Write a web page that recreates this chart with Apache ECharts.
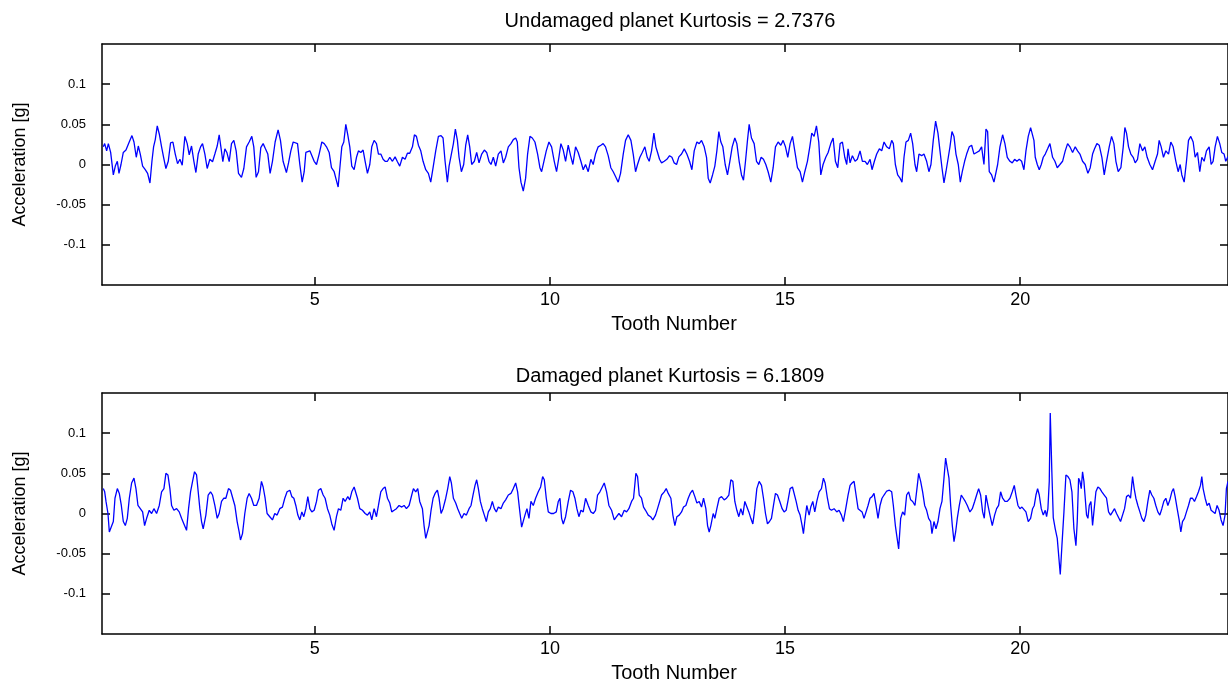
<!DOCTYPE html>
<html>
<head>
<meta charset="utf-8">
<script src="https://cdn.jsdelivr.net/npm/echarts@6/dist/echarts.min.js"></script>
<style>html,body{margin:0;padding:0;background:#fff}#c{width:1228px;height:684px}</style>
</head>
<body>
<div id="c"></div>
<script>
const titles = ['Undamaged planet Kurtosis = 2.7376', 'Damaged planet Kurtosis = 6.1809'];
const xName = 'Tooth Number';
const yName = 'Acceleration [g]';
const xTicks = [5, 10, 15, 20];
const yTicks = [-0.1, -0.05, 0, 0.05, 0.1];
const xRange = [0.474, 24.42];
const yRange = [-0.15, 0.15];

// [tooth number, acceleration g]
const undamaged = [
[0.502,0.022],[0.531,0.026],[0.573,0.017],[0.609,0.026],[0.658,0.015],[0.715,-0.013],[0.757,-0.002],[0.800,0.004],[0.835,-0.011],[0.878,0.000],[0.927,0.015],[0.984,0.018],[1.040,0.026],[1.111,0.036],[1.154,0.028],[1.203,0.009],[1.246,0.023],[1.288,0.013],[1.338,-0.002],[1.394,-0.0065],[1.444,-0.011],[1.494,-0.023],[1.536,0.004],[1.571,0.022],[1.607,0.031],[1.649,0.048],[1.692,0.038],[1.741,0.022],[1.784,0.009],[1.833,-0.005],[1.883,0.004],[1.932,0.027],[1.982,0.028],[2.032,0.013],[2.081,0.001],[2.131,0.0065],[2.180,-0.001],[2.237,0.035],[2.286,0.026],[2.329,0.012],[2.378,0.023],[2.428,0.004],[2.471,-0.010],[2.520,0.013],[2.570,0.022],[2.612,0.026],[2.662,0.013],[2.711,-0.005],[2.768,0.0065],[2.825,0.0035],[2.874,0.013],[2.924,0.023],[2.966,0.037],[3.002,0.022],[3.044,0.0035],[3.087,0.0195],[3.129,0.015],[3.179,0.0035],[3.228,0.026],[3.278,0.030],[3.327,0.017],[3.377,-0.011],[3.440,-0.016],[3.490,-0.005],[3.547,0.022],[3.603,0.028],[3.660,0.035],[3.702,0.022],[3.752,-0.016],[3.802,-0.009],[3.851,0.021],[3.901,0.026],[3.950,0.0195],[4.000,0.013],[4.049,-0.011],[4.099,0.004],[4.156,0.028],[4.219,0.043],[4.269,0.030],[4.325,0.004],[4.396,-0.010],
[4.441,0.002],[4.490,0.017],[4.540,0.028],[4.582,0.030],[4.632,0.026],[4.681,0.000],[4.731,-0.022],[4.774,-0.009],[4.809,0.015],[4.851,0.014],[4.894,0.017],[4.936,0.015],[4.986,0.004],[5.036,0.000],[5.092,0.013],[5.149,0.028],[5.199,0.026],[5.248,0.022],[5.305,0.015],[5.354,-0.004],[5.411,-0.009],[5.446,-0.017],[5.496,-0.028],[5.539,0.000],[5.574,0.022],[5.616,0.028],[5.659,0.050],[5.701,0.037],[5.744,0.022],[5.786,-0.002],[5.836,-0.0065],[5.886,0.009],[5.928,0.017],[5.978,0.015],[6.027,0.018],[6.070,0.004],[6.119,-0.011],[6.169,0.000],[6.211,0.022],[6.261,0.030],[6.311,0.026],[6.353,0.013],[6.403,0.013],[6.452,0.0065],[6.495,0.004],[6.544,0.004],[6.594,0.009],[6.651,0.004],[6.707,0.0095],[6.757,0.0035],[6.806,-0.002],[6.863,0.009],[6.920,0.0065],[6.969,0.014],[7.019,0.014],[7.076,0.022],[7.118,0.037],[7.161,0.035],[7.203,0.024],[7.253,0.017],[7.302,0.004],[7.359,-0.0065],[7.415,-0.011],[7.465,-0.022],[7.515,-0.004],[7.571,0.017],[7.628,0.035],[7.685,0.036],[7.727,0.033],[7.770,0.004],[7.819,-0.022],[7.855,-0.002],[7.904,0.013],[7.947,0.026],[7.989,0.044],[8.032,0.030],[8.067,0.009],[8.117,-0.009],[8.166,0.000],[8.209,0.024],[8.251,0.037],[8.294,0.022],
[8.336,0.000],[8.393,0.004],[8.442,0.015],[8.492,0.002],[8.549,0.013],[8.605,0.018],[8.655,0.015],[8.704,0.004],[8.747,0.000],[8.796,0.009],[8.846,-0.002],[8.902,0.013],[8.959,0.017],[9.009,0.002],[9.058,0.009],[9.115,0.022],[9.171,0.026],[9.221,0.031],[9.271,0.033],[9.306,0.028],[9.342,-0.004],[9.384,-0.022],[9.433,-0.033],[9.483,-0.017],[9.525,0.013],[9.575,0.035],[9.625,0.033],[9.681,0.028],[9.738,0.013],[9.787,-0.004],[9.823,-0.009],[9.872,0.004],[9.922,0.017],[9.979,0.028],[10.035,0.022],[10.092,0.004],[10.141,-0.009],[10.191,0.009],[10.233,0.026],[10.283,0.018],[10.333,0.004],[10.389,0.024],[10.439,0.011],[10.488,0.000],[10.545,0.022],[10.601,0.015],[10.658,0.004],[10.708,-0.0065],[10.757,0.000],[10.814,-0.009],[10.870,0.0065],[10.920,0.000],[10.969,0.013],[11.026,0.022],[11.083,0.024],[11.132,0.026],[11.182,0.022],[11.239,0.011],[11.295,-0.004],[11.346,-0.009],[11.395,-0.015],[11.452,-0.022],[11.502,-0.011],[11.559,0.013],[11.608,0.030],[11.665,0.037],[11.722,0.030],[11.771,0.013],[11.821,-0.009],[11.863,0.000],[11.913,0.009],[11.963,0.015],[12.019,0.022],[12.069,0.009],[12.111,0.004],[12.161,0.017],[12.211,0.039],[12.253,0.022],
[12.289,0.015],[12.331,0.0065],[12.374,0.002],[12.431,0.004],[12.487,0.0065],[12.544,0.011],[12.594,0.009],[12.643,0.002],[12.693,0.000],[12.742,0.0095],[12.799,0.013],[12.856,0.0195],[12.912,0.013],[12.969,0.004],[13.019,-0.0065],[13.068,0.017],[13.125,0.028],[13.174,0.026],[13.224,0.030],[13.281,0.022],[13.330,0.009],[13.366,-0.017],[13.408,-0.023],[13.458,-0.013],[13.507,-0.002],[13.550,0.017],[13.592,0.041],[13.635,0.028],[13.677,0.022],[13.727,0.000],[13.776,-0.013],[13.826,0.004],[13.876,0.022],[13.932,0.033],[13.975,0.026],[14.024,0.004],[14.074,-0.013],[14.116,-0.0195],[14.159,0.004],[14.201,0.030],[14.237,0.050],[14.286,0.033],[14.343,0.026],[14.393,0.004],[14.442,0.000],[14.492,0.009],[14.541,0.0065],[14.591,0.000],[14.640,-0.009],[14.697,-0.022],[14.747,-0.004],[14.796,0.022],[14.853,0.028],[14.910,0.024],[14.959,0.030],[15.009,0.022],[15.058,0.009],[15.108,0.026],[15.158,0.035],[15.207,0.017],[15.264,-0.004],[15.320,-0.009],[15.370,-0.022],[15.420,-0.009],[15.476,0.004],[15.526,0.022],[15.568,0.039],[15.618,0.035],[15.668,0.048],[15.717,0.028],[15.760,-0.013],[15.809,0.000],[15.866,0.009],[15.916,0.015],[15.972,0.026],[16.022,0.033],[16.071,0.004],[16.121,-0.004],[16.171,0.026],[16.220,0.028],[16.270,0.009],[16.312,0.000],
[16.340,0.0195],[16.383,0.002],[16.432,0.011],[16.489,0.004],[16.538,0.0065],[16.595,0.017],[16.645,0.004],[16.701,0.004],[16.751,0.000],[16.808,0.0065],[16.850,-0.0065],[16.900,0.004],[16.949,0.013],[17.006,0.0195],[17.056,0.017],[17.105,0.028],[17.162,0.022],[17.218,0.0195],[17.268,0.030],[17.303,0.026],[17.346,0.000],[17.395,-0.013],[17.445,-0.017],[17.487,-0.022],[17.530,0.009],[17.572,0.028],[17.622,0.030],[17.671,0.039],[17.714,0.026],[17.763,0.000],[17.799,-0.009],[17.848,0.013],[17.905,0.011],[17.954,0.013],[18.011,0.004],[18.060,-0.009],[18.103,0.000],[18.152,0.030],[18.202,0.054],[18.252,0.039],[18.295,0.017],[18.337,-0.004],[18.380,-0.023],[18.422,-0.009],[18.472,0.009],[18.507,0.022],[18.550,0.041],[18.592,0.035],[18.635,0.013],[18.684,0.000],[18.727,-0.022],[18.769,-0.009],[18.819,0.004],[18.862,0.013],[18.918,0.022],[18.968,0.024],[19.018,0.013],[19.074,0.015],[19.131,0.017],[19.180,0.022],[19.230,0.000],[19.273,0.044],[19.308,0.041],[19.343,-0.009],[19.393,-0.013],[19.443,-0.022],[19.485,-0.024],[19.521,0.000],[19.570,0.022],[19.627,0.037],[19.676,0.026],[19.726,0.009],[19.783,0.004],[19.832,0.002],[19.882,0.0065],[19.931,0.004],[19.981,0.0065],[20.031,0.004],[20.080,-0.0065],[20.123,0.017],[20.172,0.035],[20.222,0.046],[20.264,0.044],
[20.293,0.030],[20.321,0.009],[20.364,0.000],[20.406,-0.0065],[20.449,0.000],[20.491,0.009],[20.534,0.013],[20.584,0.0195],[20.633,0.026],[20.690,0.009],[20.739,0.004],[20.789,-0.004],[20.846,0.000],[20.902,0.004],[20.959,0.017],[21.009,0.026],[21.058,0.022],[21.115,0.015],[21.171,0.022],[21.221,0.017],[21.271,0.013],[21.327,0.004],[21.384,0.000],[21.441,-0.011],[21.490,-0.004],[21.540,0.013],[21.582,0.0195],[21.632,0.026],[21.681,0.024],[21.738,0.009],[21.788,-0.013],[21.837,0.004],[21.894,0.022],[21.944,0.035],[21.993,0.026],[22.036,0.004],[22.085,-0.009],[22.142,-0.004],[22.192,0.022],[22.227,0.046],[22.262,0.039],[22.305,0.022],[22.354,0.013],[22.404,0.009],[22.446,0.002],[22.496,0.0065],[22.546,0.026],[22.602,0.017],[22.652,0.022],[22.701,0.009],[22.758,0.000],[22.815,-0.0065],[22.871,0.004],[22.921,0.013],[22.956,0.030],[22.999,0.022],[23.048,0.009],[23.098,0.017],[23.155,0.013],[23.204,0.028],[23.254,0.022],[23.311,0.004],[23.360,-0.009],[23.403,0.000],[23.438,-0.013],[23.488,-0.022],[23.537,0.004],[23.580,0.030],[23.629,0.035],[23.679,0.028],[23.721,0.009],[23.771,0.015],[23.820,-0.009],[23.863,0.009],[23.912,0.004],[23.962,0.017],[24.019,0.022],[24.061,0.000],[24.103,0.004],[24.146,0.022],[24.195,0.035],[24.245,0.026],[24.287,0.015],[24.337,0.013],[24.372,0.004],[24.42,0.010]
];

const damaged = [
[0.502,0.031],[0.531,0.027],[0.559,0.015],[0.601,0.000],[0.630,-0.023],[0.672,-0.021],[0.715,-0.010],[0.750,0.019],[0.800,0.031],[0.842,0.025],[0.885,0.010],[0.927,-0.010],[0.970,-0.015],[1.012,-0.006],[1.055,0.019],[1.104,0.038],[1.154,0.044],[1.196,0.031],[1.239,0.010],[1.281,0.008],[1.338,0.002],[1.380,-0.015],[1.423,-0.006],[1.479,0.004],[1.529,0.000],[1.578,0.006],[1.635,0.000],[1.692,0.010],[1.741,0.027],[1.791,0.031],[1.833,0.050],[1.876,0.048],[1.918,0.031],[1.954,0.010],[2.003,0.004],[2.060,0.006],[2.116,0.002],[2.166,-0.006],[2.216,-0.013],[2.272,-0.021],[2.315,0.006],[2.357,0.027],[2.400,0.040],[2.442,0.052],[2.485,0.048],[2.520,0.027],[2.555,0.006],[2.591,-0.010],[2.626,-0.019],[2.683,-0.002],[2.732,0.023],[2.782,0.027],[2.825,0.023],[2.874,0.010],[2.924,-0.006],[2.966,0.000],[3.016,0.015],[3.065,0.019],[3.108,0.019],[3.164,0.031],[3.207,0.029],[3.249,0.031],[3.299,0.010],[3.348,-0.010],[3.391,-0.023],[3.419,-0.033],[3.462,-0.025],[3.511,0.000],[3.561,0.019],[3.603,0.025],[3.653,0.019],[3.702,0.010],[3.759,0.010],[3.816,0.019],[3.865,0.040],[3.901,0.033],[3.943,0.019],[3.985,0.000],[4.042,-0.004],[4.099,-0.008],[4.148,0.000],[4.198,-0.002],[4.254,0.006],[4.311,0.008],[4.361,0.019],[4.410,0.027],
[4.469,0.029],[4.511,0.021],[4.554,0.019],[4.596,0.010],[4.639,-0.002],[4.681,-0.008],[4.724,0.002],[4.766,-0.004],[4.809,0.006],[4.851,0.021],[4.894,0.006],[4.936,0.002],[4.986,0.004],[5.036,0.015],[5.078,0.029],[5.127,0.031],[5.177,0.023],[5.219,0.019],[5.269,0.006],[5.318,-0.002],[5.361,-0.013],[5.410,-0.021],[5.460,-0.004],[5.503,0.006],[5.552,0.004],[5.602,0.019],[5.644,0.015],[5.701,0.021],[5.743,0.017],[5.786,0.027],[5.836,0.033],[5.871,0.031],[5.907,0.019],[5.956,0.006],[6.013,0.004],[6.070,0.000],[6.119,-0.002],[6.169,0.002],[6.211,-0.008],[6.261,0.006],[6.311,-0.004],[6.353,0.010],[6.403,0.027],[6.452,0.031],[6.495,0.033],[6.544,0.019],[6.594,0.013],[6.636,0.002],[6.686,0.004],[6.735,0.006],[6.792,0.010],[6.849,0.008],[6.898,0.010],[6.948,0.006],[7.005,0.010],[7.061,0.023],[7.097,0.031],[7.146,0.027],[7.189,0.031],[7.231,0.015],[7.288,0.006],[7.323,-0.015],[7.359,-0.031],[7.394,-0.029],[7.430,-0.015],[7.472,0.004],[7.515,0.019],[7.557,0.025],[7.607,0.029],[7.642,0.019],[7.685,0.000],[7.727,0.006],[7.784,0.019],[7.826,0.031],[7.869,0.046],[7.904,0.038],[7.947,0.019],[7.996,0.013],[8.039,0.006],[8.081,0.000],[8.124,-0.006],[8.173,0.000],[8.223,-0.002],[8.280,0.006],[8.322,0.010],[8.364,0.023],[8.407,0.035],
[8.442,0.042],[8.478,0.031],[8.520,0.015],[8.562,0.006],[8.605,-0.002],[8.647,-0.010],[8.690,0.002],[8.732,0.006],[8.775,0.015],[8.818,0.006],[8.860,0.002],[8.902,0.008],[8.959,0.006],[9.009,0.013],[9.058,0.017],[9.115,0.023],[9.171,0.025],[9.221,0.031],[9.271,0.038],[9.313,0.027],[9.356,0.004],[9.398,-0.017],[9.433,-0.019],[9.469,-0.002],[9.511,0.006],[9.554,-0.006],[9.596,0.015],[9.646,0.010],[9.695,0.019],[9.752,0.027],[9.802,0.033],[9.845,0.046],[9.880,0.042],[9.922,0.019],[9.965,0.002],[10.022,0.000],[10.078,0.000],[10.135,0.002],[10.178,0.015],[10.213,0.019],[10.248,-0.006],[10.284,-0.013],[10.333,-0.004],[10.390,0.015],[10.439,0.029],[10.488,0.027],[10.531,0.019],[10.573,0.006],[10.616,-0.004],[10.659,0.004],[10.708,0.002],[10.758,0.019],[10.815,0.010],[10.871,0.002],[10.921,0.000],[10.970,0.004],[11.013,0.023],[11.063,0.027],[11.113,0.033],[11.155,0.038],[11.205,0.027],[11.254,0.010],[11.311,0.004],[11.368,-0.008],[11.417,-0.004],[11.467,0.000],[11.523,-0.004],[11.580,0.004],[11.630,0.002],[11.679,0.006],[11.736,0.015],[11.778,0.019],[11.828,0.050],[11.863,0.046],[11.899,0.023],[11.948,0.019],[11.991,0.008],[12.033,0.004],[12.090,-0.002],[12.140,-0.004],[12.189,-0.008],[12.246,-0.002],[12.288,0.006],
[12.374,0.023],[12.431,0.027],[12.473,0.031],[12.516,0.025],[12.572,0.019],[12.615,-0.002],[12.657,-0.015],[12.700,-0.004],[12.749,-0.002],[12.799,0.002],[12.841,0.008],[12.891,0.010],[12.941,0.019],[12.983,0.025],[13.033,0.029],[13.082,0.021],[13.125,0.013],[13.174,0.015],[13.224,0.008],[13.267,0.019],[13.316,0.006],[13.352,-0.015],[13.387,-0.023],[13.422,-0.015],[13.472,0.000],[13.507,-0.006],[13.550,0.006],[13.599,0.019],[13.649,0.021],[13.706,0.017],[13.755,0.019],[13.805,0.023],[13.847,0.042],[13.890,0.040],[13.932,0.015],[13.975,0.004],[14.017,-0.004],[14.060,0.006],[14.102,-0.002],[14.145,0.015],[14.187,0.017],[14.230,0.002],[14.272,-0.006],[14.315,-0.013],[14.357,0.006],[14.400,0.031],[14.449,0.040],[14.499,0.035],[14.541,0.019],[14.584,0.000],[14.626,-0.013],[14.669,-0.010],[14.711,-0.006],[14.754,0.010],[14.796,0.025],[14.839,0.023],[14.888,0.015],[14.938,0.006],[14.980,0.002],[15.023,0.004],[15.066,0.017],[15.108,0.031],[15.158,0.033],[15.193,0.031],[15.236,0.015],[15.278,0.004],[15.320,-0.002],[15.363,-0.015],[15.391,-0.025],[15.420,-0.010],[15.462,0.010],[15.512,-0.002],[15.547,0.008],[15.590,0.015],[15.632,0.002],[15.675,0.015],[15.724,0.027],[15.774,0.031],[15.816,0.044],[15.852,0.038],[15.901,0.019],[15.944,0.006],[15.987,0.004],[16.043,0.006],[16.100,0.002],[16.149,0.004],[16.199,-0.002],[16.241,-0.010],[16.291,0.006],
[16.340,0.023],[16.383,0.035],[16.425,0.038],[16.468,0.040],[16.510,0.023],[16.553,0.006],[16.595,0.004],[16.638,0.002],[16.680,-0.006],[16.722,-0.008],[16.765,0.010],[16.807,0.019],[16.850,0.021],[16.892,0.025],[16.935,0.010],[16.977,-0.006],[17.020,0.010],[17.062,0.019],[17.105,0.023],[17.162,0.028],[17.218,0.029],[17.268,0.027],[17.303,0.010],[17.346,-0.015],[17.374,-0.027],[17.416,-0.044],[17.459,-0.006],[17.501,0.002],[17.544,-0.002],[17.586,0.023],[17.629,0.027],[17.671,0.017],[17.714,0.015],[17.763,0.010],[17.813,0.035],[17.841,0.050],[17.884,0.040],[17.926,0.027],[17.969,0.010],[18.011,0.004],[18.053,-0.006],[18.096,-0.010],[18.124,-0.025],[18.167,-0.010],[18.210,-0.019],[18.252,-0.010],[18.295,0.006],[18.337,0.015],[18.380,0.044],[18.415,0.069],[18.451,0.056],[18.486,0.044],[18.522,0.010],[18.557,-0.015],[18.593,-0.035],[18.628,-0.023],[18.663,-0.006],[18.706,0.010],[18.748,0.023],[18.791,0.019],[18.833,0.015],[18.876,0.010],[18.932,0.002],[18.982,0.006],[19.032,0.015],[19.074,0.023],[19.117,0.031],[19.159,0.023],[19.202,0.002],[19.237,-0.006],[19.273,0.023],[19.315,0.010],[19.358,-0.002],[19.407,-0.015],[19.457,-0.002],[19.499,0.006],[19.542,0.010],[19.584,0.027],[19.627,0.019],[19.676,0.015],[19.726,0.015],[19.783,0.019],[19.832,0.027],[19.875,0.035],[19.910,0.023],[19.953,0.010],[19.995,0.006],[20.038,0.008],[20.080,0.006],[20.123,0.002],[20.172,-0.010],[20.222,-0.006],[20.264,0.006],
[20.300,0.010],[20.336,0.023],[20.371,0.031],[20.406,0.023],[20.449,0.006],[20.491,-0.002],[20.534,0.004],[20.562,-0.004],[20.590,0.006],[20.619,0.040],[20.640,0.125],[20.675,0.050],[20.704,-0.005],[20.746,-0.019],[20.789,-0.031],[20.853,-0.076],[20.888,-0.040],[20.931,0.002],[20.973,0.048],[21.016,0.046],[21.058,0.042],[21.101,0.027],[21.143,-0.019],[21.186,-0.040],[21.214,-0.010],[21.243,0.044],[21.271,0.040],[21.299,0.031],[21.327,0.052],[21.356,0.040],[21.384,0.019],[21.412,-0.002],[21.441,-0.006],[21.469,0.010],[21.505,0.015],[21.540,-0.015],[21.575,0.006],[21.611,0.027],[21.653,0.033],[21.696,0.031],[21.738,0.027],[21.788,0.023],[21.837,0.019],[21.880,0.002],[21.922,-0.002],[21.965,0.002],[22.007,0.006],[22.050,0.000],[22.092,0.002],[22.135,-0.010],[22.177,-0.008],[22.220,0.006],[22.262,0.021],[22.305,0.023],[22.347,0.019],[22.390,0.046],[22.425,0.031],[22.461,0.019],[22.503,0.010],[22.546,0.002],[22.588,-0.006],[22.631,-0.010],[22.673,-0.002],[22.716,0.015],[22.758,0.029],[22.800,0.023],[22.843,0.019],[22.885,0.010],[22.928,0.002],[22.970,-0.002],[23.013,0.006],[23.055,0.015],[23.098,0.019],[23.141,0.010],[23.183,0.017],[23.226,0.027],[23.261,0.031],[23.296,0.021],[23.339,0.006],[23.381,-0.008],[23.417,-0.023],[23.452,-0.010],[23.495,-0.006],[23.537,0.002],[23.580,0.010],[23.622,0.019],[23.665,0.019],[23.707,0.015],[23.750,0.021],[23.792,0.027],[23.835,0.035],[23.863,0.046],[23.891,0.031],[23.934,0.019],[23.976,0.010],[24.019,0.013],[24.061,0.004],[24.103,0.006],[24.146,0.000],[24.188,0.010],[24.230,0.004],[24.273,-0.008],[24.315,-0.015],[24.357,-0.002],[24.386,0.031],[24.42,0.040]
];

const FONT = 'Liberation Sans, Arial, sans-serif';
const grids = [
  {left: 102, right: -1, top: 44, height: 241},
  {left: 102, right: -1, top: 393, height: 241}
];
const lineStyle = {color: '#000', width: 1.5};
function xAxes(g) {
  return [
    {type: 'value', gridIndex: g, position: 'bottom', min: xRange[0], max: xRange[1],
     axisLine: {show: true, onZero: false, lineStyle},
     axisTick: {show: true, inside: true, length: 8, lineStyle, customValues: xTicks},
     axisLabel: {show: true, customValues: xTicks, color: '#000', fontSize: 18, fontFamily: FONT, margin: 6},
     splitLine: {show: false},
     name: xName, nameLocation: 'middle', nameGap: 29,
     nameTextStyle: {color: '#000', fontSize: 20, fontFamily: FONT, padding: [0, 0, 0, 18]}},
    {type: 'value', gridIndex: g, position: 'top', min: xRange[0], max: xRange[1],
     axisLine: {show: true, onZero: false, lineStyle},
     axisTick: {show: true, inside: true, length: 8, lineStyle, customValues: xTicks},
     axisLabel: {show: false}, splitLine: {show: false}}
  ];
}
function yAxes(g) {
  return [
    {type: 'value', gridIndex: g, position: 'left', min: yRange[0], max: yRange[1],
     axisLine: {show: true, onZero: false, lineStyle},
     axisTick: {show: true, inside: true, length: 8, lineStyle, customValues: yTicks},
     axisLabel: {show: true, customValues: yTicks, color: '#000', fontSize: 13, fontFamily: FONT, margin: 16},
     splitLine: {show: false},
     name: yName, nameLocation: 'middle', nameGap: 73,
     nameTextStyle: {color: '#000', fontSize: 18, fontFamily: FONT}},
    {type: 'value', gridIndex: g, position: 'right', min: yRange[0], max: yRange[1],
     axisLine: {show: true, onZero: false, lineStyle},
     axisTick: {show: true, inside: true, length: 8, lineStyle, customValues: yTicks},
     axisLabel: {show: false}, splitLine: {show: false}}
  ];
}

const chart = echarts.init(document.getElementById('c'), null, {renderer: 'canvas'});
chart.setOption({
  animation: false,
  backgroundColor: '#fff',
  title: [
    {text: titles[0], left: 665, top: 6, textAlign: 'center',
     textStyle: {color: '#000', fontSize: 20, fontWeight: 'normal', fontFamily: FONT}},
    {text: titles[1], left: 665, top: 361, textAlign: 'center',
     textStyle: {color: '#000', fontSize: 20, fontWeight: 'normal', fontFamily: FONT}}
  ],
  grid: grids,
  xAxis: [...xAxes(0), ...xAxes(1)],
  yAxis: [...yAxes(0), ...yAxes(1)],
  series: [
    {type: 'line', xAxisIndex: 0, yAxisIndex: 0, data: undamaged, showSymbol: false,
     lineStyle: {color: '#0000ff', width: 1.3}, clip: true},
    {type: 'line', xAxisIndex: 2, yAxisIndex: 2, data: damaged, showSymbol: false,
     lineStyle: {color: '#0000ff', width: 1.3}, clip: true}
  ]
});
</script>
</body>
</html>
